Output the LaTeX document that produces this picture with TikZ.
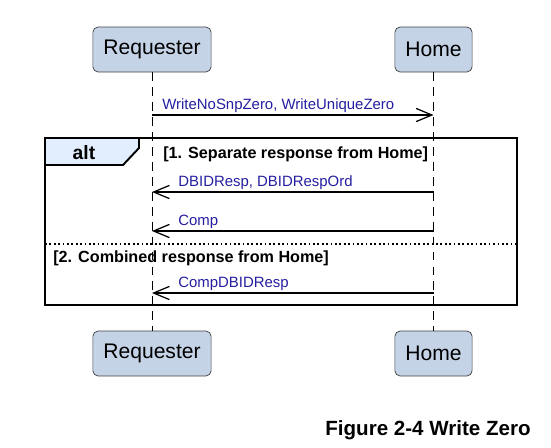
\documentclass[tikz,border=0pt]{standalone}
\usepackage{fontspec}
\setmainfont{Liberation Sans}
\usetikzlibrary{positioning, calc, arrows.meta}
\definecolor{SBoxFill}{RGB}{197,211,230}
\definecolor{SBoxLine}{RGB}{64,64,64}
\definecolor{SNavy}{RGB}{36,30,160}
\definecolor{STabFill}{RGB}{226,238,253}

\begin{document}
\begin{tikzpicture}[
      every node/.style={inner sep=0pt},
      actor/.style={draw=SBoxLine, rounded corners=3pt, fill=SBoxFill,
                    font=\fontsize{12}{14}\selectfont, inner xsep=0.21cm,
                    minimum height=0.9cm},
      lifeline/.style={dash pattern=on 5pt off 3.5pt, line width=0.5pt},
      msg/.style={-{Straight Barb[length=9pt, width=7.5pt]}, line width=0.7pt},
      lbl/.style={anchor=base west, font=\fontsize{8.5}{10}\selectfont, text=SNavy},
      guard/.style={anchor=base west, font=\fontsize{9.2}{11}\selectfont\bfseries},
      frm/.style={line width=1.1pt},
    ]
      \useasboundingbox (0, 0) rectangle (11.02, -8.94);
      % Participants, top and bottom
      \node[actor] (reqT) at (3.04, -0.99) {Requester};
      \node[actor] (homeT) at (8.67, -0.99) {Home};
      \node[actor] (reqB) at (3.04, -7.07) {Requester};
      \node[actor] (homeB) at (8.67, -7.07) {Home};
      % Lifelines
      \draw[lifeline] (reqT) -- (reqB);
      \draw[lifeline] (homeT) -- (homeB);
      % Message end points on the lifelines
      \foreach \y/\n in {-2.30/m1, -3.84/m2, -4.62/m3, -5.86/m4} {
        \coordinate (\n r) at (reqT |- 0,\y);
        \coordinate (\n h) at (homeT |- 0,\y);
      }
      % Request
      \draw[msg] (m1r) -- (m1h);
      \node[lbl] (l1) at ($(m1r)+(0.2, 0.12)$) {WriteNoSnpZero, WriteUniqueZero};
      % alt frame with its tab
      \draw[frm, fill=STabFill] (0.9, -2.76) -- (2.78, -2.76) -- (2.78, -2.96)
        -- (2.46, -3.30) -- (0.9, -3.30) -- cycle;
      \draw[frm] (0.9, -2.76) rectangle (10.34, -6.10);
      \node[font=\fontsize{11}{13}\selectfont\bfseries, anchor=base] (alt) at (1.68, -3.18) {alt};
      \node[guard] (g1) at (3.26, -3.17) {[1. Separate response from Home]};
      % Separate responses
      \draw[msg] (m2h) -- (m2r);
      \node[lbl] (l2) at ($(m2r)+(0.52, 0.12)$) {DBIDResp, DBIDRespOrd};
      \draw[msg] (m3h) -- (m3r);
      \node[lbl] (l3) at ($(m3r)+(0.52, 0.12)$) {Comp};
      % Operand separator
      \draw[dash pattern=on 1pt off 1.5pt, line width=0.6pt] (0.9, -4.88) -- (10.34, -4.88);
      \node[guard] (g2) at (1.06, -5.25) {[2. Combined response from Home]};
      % Combined response
      \draw[msg] (m4h) -- (m4r);
      \node[lbl] (l4) at ($(m4r)+(0.52, 0.12)$) {CompDBIDResp};
      % Caption
      \node[font=\fontsize{11.7}{14}\selectfont\bfseries, anchor=base east] (cap)
        at (10.62, -8.71) {Figure 2-4 Write Zero};
    \end{tikzpicture}
\end{document}
